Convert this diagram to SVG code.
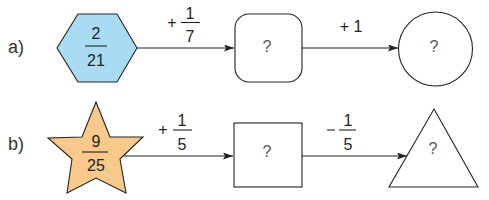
<svg xmlns="http://www.w3.org/2000/svg" width="489" height="200" viewBox="0 0 489 200">
<defs>
<style>
text{font-family:"Liberation Sans",Arial,sans-serif;fill:#222}
.f{font-size:16px;text-anchor:middle}
.q{font-size:16px;text-anchor:middle;fill:#555}
.lbl{font-size:18px;fill:#333}
.shape{stroke:#222;stroke-width:1.1;fill:#fff}
.conn{stroke:#222;stroke-width:1.2;fill:none;marker-end:url(#ah)}
.bar{stroke:#222;stroke-width:1.1}
</style>
<marker id="ah" viewBox="0 0 10 8" refX="10" refY="4" markerWidth="10" markerHeight="7" markerUnits="userSpaceOnUse" orient="auto" preserveAspectRatio="none">
<path d="M0,0 L10,4 L0,8 L2,4 Z" fill="#222"/>
</marker>
</defs>
<rect width="489" height="200" fill="#fff"/>
<text class="lbl" x="8" y="53">a)</text>
<text class="lbl" x="8" y="150">b)</text>
<g id="connectors">
<line class="conn" x1="137" y1="48" x2="234" y2="48"/>
<line class="conn" x1="302" y1="48" x2="398" y2="48"/>
<line class="conn" x1="124" y1="156" x2="233" y2="156"/>
<line class="conn" x1="302" y1="156" x2="407" y2="156"/>
<text class="f" x="172" y="28">+</text>
<text class="f" x="190" y="18.5">1</text>
<line class="bar" x1="181" y1="22.5" x2="200" y2="22.5"/>
<text class="f" x="190" y="42">7</text>
<text class="f" x="351" y="32">+ 1</text>
<text class="f" x="163" y="135">+</text>
<text class="f" x="182" y="126">1</text>
<line class="bar" x1="173" y1="130" x2="192" y2="130"/>
<text class="f" x="182" y="150">5</text>
<line class="bar" x1="327" y1="130" x2="335" y2="130"/>
<text class="f" x="348" y="126">1</text>
<line class="bar" x1="339" y1="130" x2="356" y2="130"/>
<text class="f" x="348" y="150">5</text>
</g>
<g id="hexagon">
<polygon points="57,48 78,14 117,14 137,48 117,82 78,82" fill="#a9dcf3" stroke="#222" stroke-width="1.1"/>
<text class="f" x="96" y="39">2</text>
<line class="bar" x1="85" y1="46" x2="107" y2="46"/>
<text class="f" x="96" y="66">21</text>
</g>
<g id="roundrect">
<rect class="shape" x="235" y="14" width="67" height="68" rx="14"/>
<text class="q" x="267" y="52">?</text>
</g>
<g id="circle">
<circle class="shape" cx="435.5" cy="49" r="37"/>
<text class="q" x="434" y="52">?</text>
</g>
<g id="star">
<polygon points="96,102 110,137 143,137 120,159 126,193 96,178 67,193 72,159 48,138 82,137" fill="#f8c98b" stroke="#222" stroke-width="1.1"/>
<text class="f" x="96" y="147">9</text>
<line class="bar" x1="82" y1="152" x2="108" y2="152"/>
<text class="f" x="96" y="171">25</text>
</g>
<g id="square">
<rect class="shape" x="234" y="123" width="68" height="64"/>
<text class="q" x="267" y="157">?</text>
</g>
<g id="triangle">
<polygon class="shape" points="434,109 478,187 389,187"/>
<text class="q" x="433" y="154">?</text>
</g>
</svg>
